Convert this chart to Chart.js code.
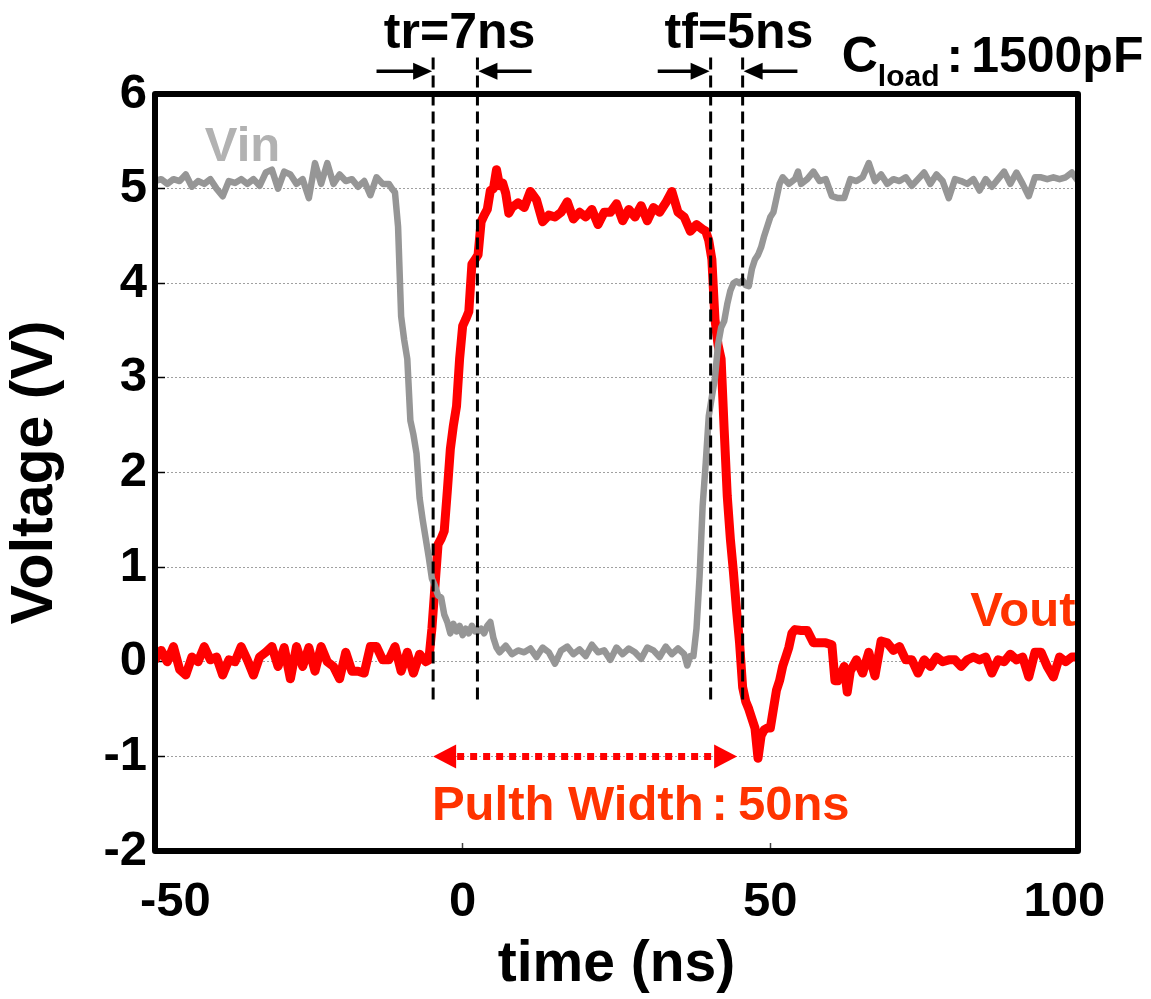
<!DOCTYPE html>
<html><head><meta charset="utf-8">
<script src="https://cdn.jsdelivr.net/npm/chart.js@4.4.1/dist/chart.umd.min.js"></script>
<style>html,body{margin:0;padding:0;background:#fff;overflow:hidden}</style>
</head><body>
<canvas id="c" width="1151" height="999"></canvas>
<script>
// ---- data (time in ns, voltage in V) ----
const vinTime = [
 -50,-49,-48,-47,-46,-45,-44,-43,-42,-41,-40,-39,-38,-37,-36,-35,-34,-33,-32,-31,-30,-29,-28,-27,-26,-25,-24,-23,-22,-21,-20,-19,-18,-17,-16,-15,-14,-13,-12,
 -11.5,-11,-10.5,-10,-9.5,-9,-8.5,-8,-7.5,-7,-6.5,-6,-5.5,-5,-4.5,-4,-3.5,-3,-2.5,-2,-1.5,-1,-0.5,0,0.5,1,1.5,2,2.5,3,3.5,4,4.5,5,5.5,6,
 7,8,9,10,11,12,13,14,15,16,17,18,19,20,21,22,23,24,25,26,27,28,29,30,31,32,33,34,35,36,
 36.5,37,37.5,38,38.5,39,39.5,40,40.5,41,41.5,42,42.5,43,43.5,44,44.5,45,45.5,46,46.5,47,47.5,48,48.5,49,49.5,50,50.5,51,51.5,52,
 53,54,54.5,55,56,57,58,59,60,61,62,63,64,65,66,67,68,69,70,71,72,73,74,75,76,77,78,79,80,81,82,83,84,85,86,87,88,89,90,91,92,93,94,95,96,97,98,99,100
];
const vinVolt = [
 5.08,5.10,5.05,5.10,5.08,5.15,5.02,5.08,5.05,5.10,5.00,4.92,5.08,5.06,5.10,5.05,5.10,5.03,5.17,5.20,5.00,5.18,5.15,5.05,5.10,4.90,5.27,5.05,5.27,5.05,5.15,5.08,5.10,5.02,5.08,4.93,5.12,5.05,5.05,
 5.00,4.96,4.60,3.65,3.40,3.20,2.55,2.40,2.20,1.73,1.50,1.30,1.10,0.88,0.80,0.70,0.68,0.50,0.42,0.30,0.40,0.32,0.38,0.28,0.35,0.30,0.38,0.32,0.32,0.35,0.30,0.38,0.42,0.25,0.15,0.10,
 0.17,0.08,0.12,0.10,0.14,0.05,0.15,0.10,-0.02,0.12,0.16,0.08,0.13,0.06,0.18,0.10,0.12,0.02,0.15,0.08,0.14,0.10,0.03,0.15,0.12,0.05,0.16,0.08,0.14,0.08,
 -0.04,0.06,0.06,0.35,0.90,1.65,2.10,2.60,2.80,3.00,3.35,3.53,3.60,3.78,3.92,4.00,4.02,4.00,4.03,3.98,3.97,4.15,4.25,4.30,4.38,4.50,4.60,4.70,4.75,4.90,5.05,5.12,
 5.05,5.10,5.18,5.05,5.10,5.18,5.08,5.10,4.92,4.90,4.90,5.10,5.08,5.12,5.27,5.08,5.15,5.05,5.10,5.08,5.12,5.03,5.10,5.17,5.05,5.15,5.08,4.90,5.10,5.08,5.05,5.10,4.98,5.10,5.02,5.10,5.18,5.05,5.17,5.05,4.92,5.12,5.12,5.10,5.12,5.10,5.12,5.17,5.08
];
const voutTime = [
 -50,-49,-48,-47,-46,-45,-44,-43,-42,-41,-40,-39,-38,-37,-36,-35,-34,-33,-32,-31,-30,-29,-28,-27,-26,-25,-24,-23,-22,-21,-20,-19,-18,-17,-16,-15,-14,-13,-12,-11,-10,-9,-8,-7,-6,
 -5.5,-5,-4.5,-4,-3.5,-3,-2.5,-2,-1.5,-1,-0.5,0,0.5,1,1.5,2,2.5,3,3.5,4,4.5,5,5.5,6,6.5,7,7.5,
 8,9,10,11,12,13,14,15,16,17,18,19,20,21,22,23,24,25,26,27,28,29,30,31,32,33,34,35,36,37,38,39,
 39.5,40,40.5,41,41.5,42,42.5,43,43.5,44,44.5,45,45.5,46,46.5,47,47.5,48,48.5,49,49.5,50,50.5,51,51.5,52,52.5,53,53.5,
 54,55,56,57,58,59,60,60.5,61,62,62.5,63,64,65,66,67,68,69,70,71,72,73,74,75,76,77,78,79,80,81,82,83,84,85,86,87,88,89,90,91,92,93,94,95,96,97,98,99,100
];
const voutVolt = [
 0.02,0.12,0.00,0.16,-0.08,-0.14,0.05,0.00,0.16,0.02,0.05,-0.14,0.02,0.00,0.16,0.02,-0.14,0.05,0.10,0.16,-0.05,0.15,-0.18,0.16,-0.05,0.15,-0.10,0.16,0.00,-0.05,-0.18,0.10,-0.10,-0.10,-0.12,0.16,0.16,0.02,0.02,0.16,-0.10,0.10,-0.12,0.08,0.00,
 0.02,0.35,0.80,1.24,1.30,1.38,1.80,2.25,2.50,2.70,3.20,3.55,3.62,3.70,4.20,4.25,4.30,4.65,4.72,4.78,4.98,5.00,5.20,5.03,5.06,4.95,4.74,
 4.80,4.85,4.80,4.97,4.88,4.65,4.72,4.70,4.75,4.86,4.68,4.75,4.70,4.78,4.62,4.75,4.75,4.84,4.66,4.78,4.70,4.82,4.66,4.80,4.75,4.85,4.97,4.75,4.70,4.55,4.62,4.57,
 4.55,4.45,4.25,3.62,3.35,3.20,2.45,1.75,1.30,0.95,0.55,0.20,-0.27,-0.42,-0.50,-0.60,-0.70,-1.02,-0.78,-0.72,-0.70,-0.70,-0.50,-0.30,-0.20,-0.05,0.05,0.15,0.30,
 0.34,0.33,0.33,0.20,0.20,0.20,0.18,-0.20,-0.20,-0.05,-0.32,-0.10,0.02,-0.12,0.10,-0.15,0.22,0.20,0.12,0.16,0.02,0.02,-0.12,0.02,-0.05,0.05,0.00,0.02,0.02,-0.05,0.02,0.05,0.02,0.05,-0.12,0.02,0.00,0.08,0.02,0.05,-0.16,0.10,0.10,-0.05,-0.16,0.05,0.00,0.05,0.05
];
// annotation values (data coordinates)
const markerTimes = [-4.8, 2.4, 40.3, 45.5];
const pulseArrow = { from: -4.8, to: 44.6, level: -1 };
const riseText = 'tr=7ns';
const fallText = 'tf=5ns';
const loadText = ['C', 'load', ':', '1500pF'];
const vinText = 'Vin';
const voutText = 'Vout';
const pulseText = ['Pulth Width', ':', '50ns'];
const xTitle = 'time (ns)';
const yTitle = 'Voltage (V)';

const FONT = '"Liberation Sans", Arial, sans-serif';

function toXY(t, v) { return t.map((x, i) => ({ x, y: v[i] })); }

const annot = {
  id: 'annot',
  afterDatasetsDraw(chart) {
    const { ctx, scales: { x, y } } = chart;
    const X = t => x.getPixelForValue(t), Y = v => y.getPixelForValue(v);
    ctx.save();
    // dashed markers
    ctx.strokeStyle = '#000'; ctx.lineWidth = 3; ctx.setLineDash([12, 6]);
    markerTimes.forEach(t => {
      ctx.beginPath(); ctx.moveTo(X(t), Y(6.385)); ctx.lineTo(X(t), Y(-0.43)); ctx.stroke();
    });
    ctx.setLineDash([]);
    // black arrows
    const arrow = (x0, x1, yy, col, w, hl, hw) => {
      const dir = Math.sign(x1 - x0);
      ctx.strokeStyle = col; ctx.fillStyle = col; ctx.lineWidth = w;
      ctx.beginPath(); ctx.moveTo(x0, yy); ctx.lineTo(x1 - dir * hl * 0.8, yy); ctx.stroke();
      ctx.beginPath(); ctx.moveTo(x1, yy); ctx.lineTo(x1 - dir * hl, yy - hw / 2); ctx.lineTo(x1 - dir * hl, yy + hw / 2); ctx.closePath(); ctx.fill();
    };
    const ay = Y(6.24);
    arrow(X(-14), X(markerTimes[0]) - 1, ay, '#000', 3.5, 19, 17);
    arrow(X(11.2), X(markerTimes[1]) + 1, ay, '#000', 3.5, 19, 17);
    arrow(X(31.7), X(markerTimes[2]) - 1, ay, '#000', 3.5, 19, 17);
    arrow(X(54.4), X(markerTimes[3]) + 1, ay, '#000', 3.5, 19, 17);
    // red dotted double arrow
    const py = Y(pulseArrow.level), pa = X(pulseArrow.from), pb = X(pulseArrow.to);
    ctx.strokeStyle = '#ff0000'; ctx.fillStyle = '#ff0000'; ctx.lineWidth = 7; ctx.setLineDash([7, 6]);
    ctx.beginPath(); ctx.moveTo(pa + 24, py); ctx.lineTo(pb - 24, py); ctx.stroke();
    ctx.setLineDash([]);
    ctx.beginPath(); ctx.moveTo(pa, py); ctx.lineTo(pa + 23, py - 12); ctx.lineTo(pa + 23, py + 12); ctx.closePath(); ctx.fill();
    ctx.beginPath(); ctx.moveTo(pb, py); ctx.lineTo(pb - 23, py - 12); ctx.lineTo(pb - 23, py + 12); ctx.closePath(); ctx.fill();
    // texts
    ctx.textBaseline = 'alphabetic';
    ctx.font = 'bold 50px ' + FONT; ctx.fillStyle = '#000'; ctx.textAlign = 'center';
    ctx.fillText(riseText, X(-0.5), Y(6.49));
    ctx.fillText(fallText, X(44.9), Y(6.49));
    // C_load : 1500pF
    ctx.textAlign = 'left';
    let lx = X(61.6); const lb = Y(6.23);
    ctx.font = 'bold 50px ' + FONT; ctx.fillText(loadText[0], lx, lb); lx += ctx.measureText(loadText[0]).width;
    ctx.font = 'bold 30px ' + FONT; ctx.fillText(loadText[1], lx, lb + 14); lx += ctx.measureText(loadText[1]).width + 7;
    ctx.font = 'bold 50px ' + FONT; ctx.fillText(loadText[2], lx, lb); lx += ctx.measureText(loadText[2]).width + 8;
    ctx.fillText(loadText[3], lx, lb);
    // series labels
    ctx.font = 'bold 49px ' + FONT;
    ctx.fillStyle = '#b2b2b2'; ctx.fillText(vinText, X(-41.9), Y(5.29));
    ctx.fillStyle = '#ff3300'; ctx.textAlign = 'right'; ctx.fillText(voutText, X(99.6), Y(0.38));
    ctx.textAlign = 'left';
    let qx = X(-5.0); const qb = Y(-1.67);
    ctx.fillText(pulseText[0], qx, qb); qx += ctx.measureText(pulseText[0]).width + 8;
    ctx.fillText(pulseText[1], qx, qb); qx += ctx.measureText(pulseText[1]).width + 10;
    ctx.fillText(pulseText[2], qx, qb);
    ctx.restore();
  },
  afterDraw(chart) {
    const { ctx, chartArea: a } = chart;
    ctx.save();
    ctx.strokeStyle = '#000'; ctx.lineWidth = 6; ctx.lineJoin = 'round';
    ctx.strokeRect(a.left, a.top, a.right - a.left, a.bottom - a.top);
    ctx.restore();
  }
};

const NB = '\u00A0';
new Chart(document.getElementById('c'), {
  type: 'line',
  data: {
    datasets: [
      { label: 'Vin', data: toXY(vinTime, vinVolt), borderColor: '#969696', borderWidth: 6.5, pointRadius: 0, tension: 0, borderJoinStyle: 'round', borderCapStyle: 'round' },
      { label: 'Vout', data: toXY(voutTime, voutVolt), borderColor: '#ff0000', borderWidth: 9, pointRadius: 0, tension: 0, borderJoinStyle: 'round', borderCapStyle: 'round' }
    ]
  },
  options: {
    responsive: false, animation: false, devicePixelRatio: 1,
    layout: { padding: { left: 0, top: 94, right: 73, bottom: 0 } },
    plugins: { legend: { display: false }, tooltip: { enabled: false } },
    scales: {
      x: {
        type: 'linear', min: -50, max: 100,
        ticks: {
          stepSize: 50, color: '#000', font: { family: FONT, size: 49, weight: 'bold' }, padding: 30, maxRotation: 0,
          callback: v => v === -50 ? NB + NB + NB + v : (v === 100 ? v + NB + NB : String(v))
        },
        grid: { drawOnChartArea: false, drawTicks: true, tickLength: -8, tickColor: '#444', tickWidth: 1.5 },
        border: { display: false },
        title: { display: true, text: xTitle, color: '#000', font: { family: FONT, size: 57, weight: 'bold' }, padding: 0 },
        afterFit: s => { s.height = 148; s.paddingLeft = 0; s.paddingRight = 0; }
      },
      y: {
        min: -2, max: 6,
        ticks: { stepSize: 1, color: '#000', font: { family: FONT, size: 49, weight: 'bold' }, padding: 18 },
        grid: { color: '#a0a0a0', lineWidth: 1, drawTicks: true, tickLength: -10, tickColor: '#000', tickWidth: 1.5, tickBorderDash: [] },
        border: { display: false, dash: [2, 2] },
        title: { display: true, text: yTitle, color: '#000', font: { family: FONT, size: 59, weight: 'bold' }, padding: 0 },
        afterFit: s => { s.width = 155; s.paddingTop = 0; s.paddingBottom = 0; }
      }
    }
  },
  plugins: [annot]
});
</script>
</body></html>
